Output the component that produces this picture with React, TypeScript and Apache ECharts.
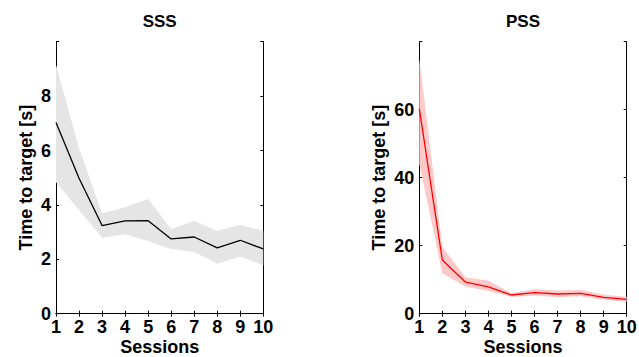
import React, { useEffect, useRef } from "react";
import * as echarts from "echarts";

const sessions = ["1", "2", "3", "4", "5", "6", "7", "8", "9", "10"];

const sssMean = [7.03, 4.98, 3.24, 3.41, 3.42, 2.75, 2.82, 2.42, 2.7, 2.38];
const sssUpper = [9.14, 6.08, 3.69, 3.91, 4.22, 3.11, 3.42, 3.04, 3.27, 3.04];
const sssLower = [4.83, 3.81, 2.79, 2.92, 2.67, 2.38, 2.27, 1.84, 2.1, 1.78];

const pssMean = [60.3, 15.8, 9.3, 7.9, 5.5, 6.2, 5.8, 6.0, 4.8, 4.2];
const pssUpper = [75.0, 19.7, 10.7, 9.7, 6.0, 7.2, 6.8, 7.0, 5.6, 5.0];
const pssLower = [44.0, 11.9, 8.0, 6.7, 5.0, 5.3, 4.9, 5.1, 4.1, 3.5];

const titles = ["SSS", "PSS"];
const yMax = [10, 80];
const yInterval = [2, 20];

const FONT = "Liberation Sans";

export default function App() {
  const ref = useRef<HTMLDivElement>(null);
  useEffect(() => {
    if (!ref.current) return;
    const chart = echarts.init(ref.current, null, { renderer: "svg" });
    const grids = [
      { left: 56, top: 41.7, width: 207.3, height: 272, outerBoundsMode: "none", containLabel: false },
      { left: 419.3, top: 41.7, width: 207.4, height: 272, outerBoundsMode: "none", containLabel: false },
    ];
    const yNameGap = [21, 31];
    const xAxis: any[] = [];
    const yAxis: any[] = [];
    const series: any[] = [];
    const title: any[] = [];
    const panels = [
      { mean: sssMean, up: sssUpper, lo: sssLower, line: "#000000", band: "#e5e5e5" },
      { mean: pssMean, up: pssUpper, lo: pssLower, line: "#ff0000", band: "#fdc9c9" },
    ];
    const txt = { fontFamily: FONT, fontWeight: "bold", fontSize: 18, color: "#000" };
    panels.forEach((p, i) => {
      const g = grids[i];
      title.push({
        text: titles[i],
        left: g.left + g.width / 2,
        textAlign: "center",
        top: 13,
        padding: 0,
        textStyle: { fontFamily: FONT, fontWeight: "bold", fontSize: 17, color: "#000" },
      });
      xAxis.push({
        type: "category",
        gridIndex: i,
        data: sessions,
        boundaryGap: false,
        position: "bottom",
        name: "Sessions",
        nameLocation: "middle",
        nameGap: 24,
        nameMoveOverlap: false,
        nameTextStyle: { ...txt, fontSize: 18, lineHeight: 18 },
        axisLine: { show: true, lineStyle: { color: "#000", width: 1 } },
        axisTick: { show: true, inside: true, length: 3, interval: 0, lineStyle: { color: "#000" } },
        axisLabel: { ...txt, margin: 4, interval: 0, hideOverlap: false },
        splitLine: { show: false },
      });
      xAxis.push({
        type: "category",
        gridIndex: i,
        data: sessions,
        boundaryGap: false,
        position: "top",
        axisLine: { show: true, lineStyle: { color: "#000", width: 1 } },
        axisTick: { show: true, inside: true, length: 3, interval: 0, lineStyle: { color: "#000" } },
        axisLabel: { show: false },
        splitLine: { show: false },
      });
      yAxis.push({
        type: "value",
        gridIndex: i,
        min: 0,
        max: yMax[i],
        interval: yInterval[i],
        position: "left",
        name: "Time to target [s]",
        nameLocation: "middle",
        nameGap: yNameGap[i],
        nameMoveOverlap: false,
        nameTextStyle: txt,
        axisLine: { show: true, lineStyle: { color: "#000", width: 1 } },
        axisTick: { show: true, inside: true, length: 3, lineStyle: { color: "#000" } },
        axisLabel: {
          ...txt,
          margin: 5,
          formatter: (v: number) => (v === yMax[i] ? "" : String(v)),
        },
        splitLine: { show: false },
      });
      yAxis.push({
        type: "value",
        gridIndex: i,
        min: 0,
        max: yMax[i],
        interval: yInterval[i],
        position: "right",
        axisLine: { show: true, lineStyle: { color: "#000", width: 1 } },
        axisTick: { show: true, inside: true, length: 3, lineStyle: { color: "#000" } },
        axisLabel: { show: false },
        splitLine: { show: false },
      });
      const xi = i * 2;
      const yi = i * 2;
      series.push({
        type: "line",
        xAxisIndex: xi,
        yAxisIndex: yi,
        stack: "band" + i,
        data: p.lo,
        symbol: "none",
        lineStyle: { opacity: 0 },
        silent: true,
      });
      series.push({
        type: "line",
        xAxisIndex: xi,
        yAxisIndex: yi,
        stack: "band" + i,
        data: p.up.map((u, k) => +(u - p.lo[k]).toFixed(3)),
        symbol: "none",
        lineStyle: { opacity: 0 },
        areaStyle: { color: p.band, opacity: 1 },
        silent: true,
      });
      series.push({
        type: "line",
        xAxisIndex: xi,
        yAxisIndex: yi,
        data: p.mean,
        symbol: "none",
        lineStyle: { color: p.line, width: 1.3 },
        z: 5,
      });
    });
    chart.setOption({
      animation: false,
      backgroundColor: "#ffffff",
      title,
      grid: grids,
      xAxis,
      yAxis,
      series,
    });
    return () => chart.dispose();
  }, []);
  return (
    <div
      ref={ref}
      style={{ position: "fixed", left: 0, top: 0, width: 639, height: 357 }}
    />
  );
}
